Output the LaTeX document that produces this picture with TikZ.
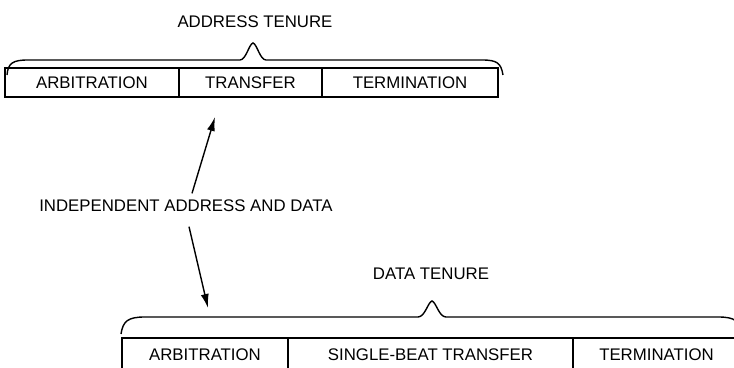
\documentclass[tikz,border=0pt]{standalone}
\usepackage{fontspec}
\setmainfont{Liberation Sans}
\usetikzlibrary{arrows.meta}

\tikzset{
    phase/.style={draw, line width=0.8pt, minimum height=14.5pt, inner sep=0pt, font=\fontsize{8.4}{10}\selectfont},
    notetext/.style={inner sep=3pt, font=\fontsize{8.4}{10}\selectfont},
    brace/.style={line width=0.7pt},
}

\begin{document}
\begin{tikzpicture}[x=0.5pt, y=-0.5pt, >={Latex[length=7pt,width=4pt]}, line width=0.7pt]
            \clip (0,0) rectangle (734,368);

            \node[notetext] (atenure) at (255, 22) {ADDRESS TENURE};
            \node[phase, minimum width=87pt] (arb1) at (92, 82.5) {ARBITRATION};
            \node[phase, minimum width=71.5pt] (xfer1) at (250.5, 82.5) {TRANSFER};
            \node[phase, minimum width=88pt] (term1) at (410, 82.5) {TERMINATION};

            \node[notetext] (indep) at (186, 206) {INDEPENDENT ADDRESS AND DATA};

            \node[notetext] (dtenure) at (431, 274) {DATA TENURE};
            \node[phase, minimum width=83pt, minimum height=17pt] (arb2) at (205, 355) {ARBITRATION};
            \node[phase, minimum width=142.5pt, minimum height=17pt] (xfer2) at (430.5, 355) {SINGLE-BEAT TRANSFER};
            \node[phase, minimum width=83.5pt, minimum height=17pt] (term2) at (656.5, 355) {TERMINATION};

            \draw[brace] (7,75) .. controls (8,63) and (13,60) .. (28,60) -- (240,60)
                .. controls (246,60) and (249,44) .. (253,43) .. controls (257,44) and (260,60) .. (266,60)
                -- (482,60) .. controls (497,60) and (501,63) .. (503,75);
            \draw[brace] (121,334) .. controls (123,321) and (128,317) .. (145,317) -- (418,317)
                .. controls (425,317) and (428,302) .. (432,301) .. controls (436,302) and (439,317) .. (446,317)
                -- (718,317) .. controls (735,317) and (740,321) .. (742,334);

            \coordinate (up) at (215, 117);
            \coordinate (down) at (208, 308);

            \draw[->] ([xshift=3pt]indep.north) to (up);
            \draw[->] ([xshift=1.5pt, yshift=-4pt]indep.south) to (down);
        \end{tikzpicture}
\end{document}
